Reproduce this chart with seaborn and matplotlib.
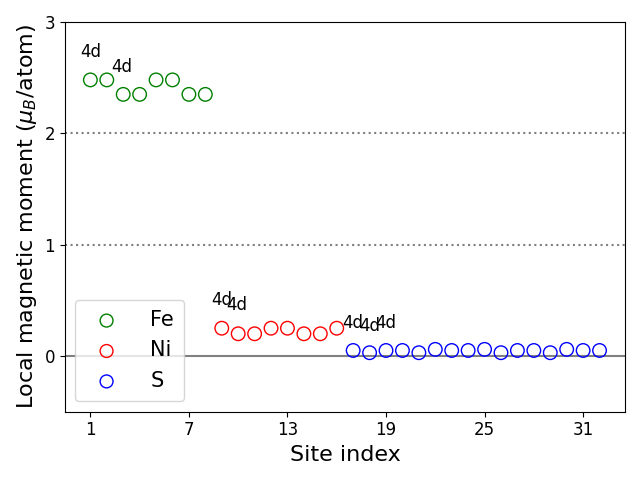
import numpy as np
import pandas as pd
import matplotlib
matplotlib.use("Agg")
import matplotlib.pyplot as plt
import seaborn as sns

plt.rcParams['font.family'] = ['DejaVu Sans']

# site moments
fe_sites = list(range(1, 9))
fe_moments = [2.48, 2.48, 2.35, 2.35, 2.48, 2.48, 2.35, 2.35]
ni_sites = list(range(9, 17))
ni_moments = [0.25, 0.20, 0.20, 0.25, 0.25, 0.20, 0.20, 0.25]
s_sites = list(range(17, 33))
s_moments = [0.05, 0.03, 0.05, 0.05, 0.03, 0.06, 0.05, 0.05,
             0.06, 0.03, 0.05, 0.05, 0.03, 0.06, 0.05, 0.05]

# orbital labels
label_x = [1, 2.9, 9.0, 9.9, 17.0, 18.0, 19.0]
label_y = [2.73, 2.60, 0.50, 0.46, 0.30, 0.27, 0.30]
label_text = ['4d'] * 7

df = pd.DataFrame({
    'site': fe_sites + ni_sites + s_sites,
    'moment': fe_moments + ni_moments + s_moments,
    'element': ['Fe'] * 8 + ['Ni'] * 8 + ['S'] * 16,
})
colors = {'Fe': 'green', 'Ni': 'red', 'S': 'blue'}

fig, ax = plt.subplots(figsize=(6.4, 4.8), dpi=100)
ax.axhline(0, color='gray', lw=1.5, zorder=0)
ax.axhline(1, color='gray', lw=1.5, ls=':', zorder=0)
ax.axhline(2, color='gray', lw=1.5, ls=':', zorder=0)

for el, sub in df.groupby('element', sort=False):
    sns.scatterplot(data=sub, x='site', y='moment', ax=ax, s=95,
                    facecolor='none', edgecolor=colors[el], linewidth=1,
                    marker='o', label=el)

for x, y, t in zip(label_x, label_y, label_text):
    ax.text(x, y, t, ha='center', va='center', fontsize=12)

ax.set_ylim(-0.5, 3)
ax.set_xticks([1, 7, 13, 19, 25, 31])
ax.set_yticks([0, 1, 2, 3])
ax.tick_params(labelsize=12)
ax.set_xlabel('Site index', fontsize=16)
ax.set_ylabel(r'Local magnetic moment ($\mu_B$/atom)', fontsize=16)
ax.legend(loc='lower left', fontsize=15, markerscale=0.95, borderpad=0.5,
          handletextpad=1.1)
plt.tight_layout()
plt.savefig('out.png', dpi=100)
